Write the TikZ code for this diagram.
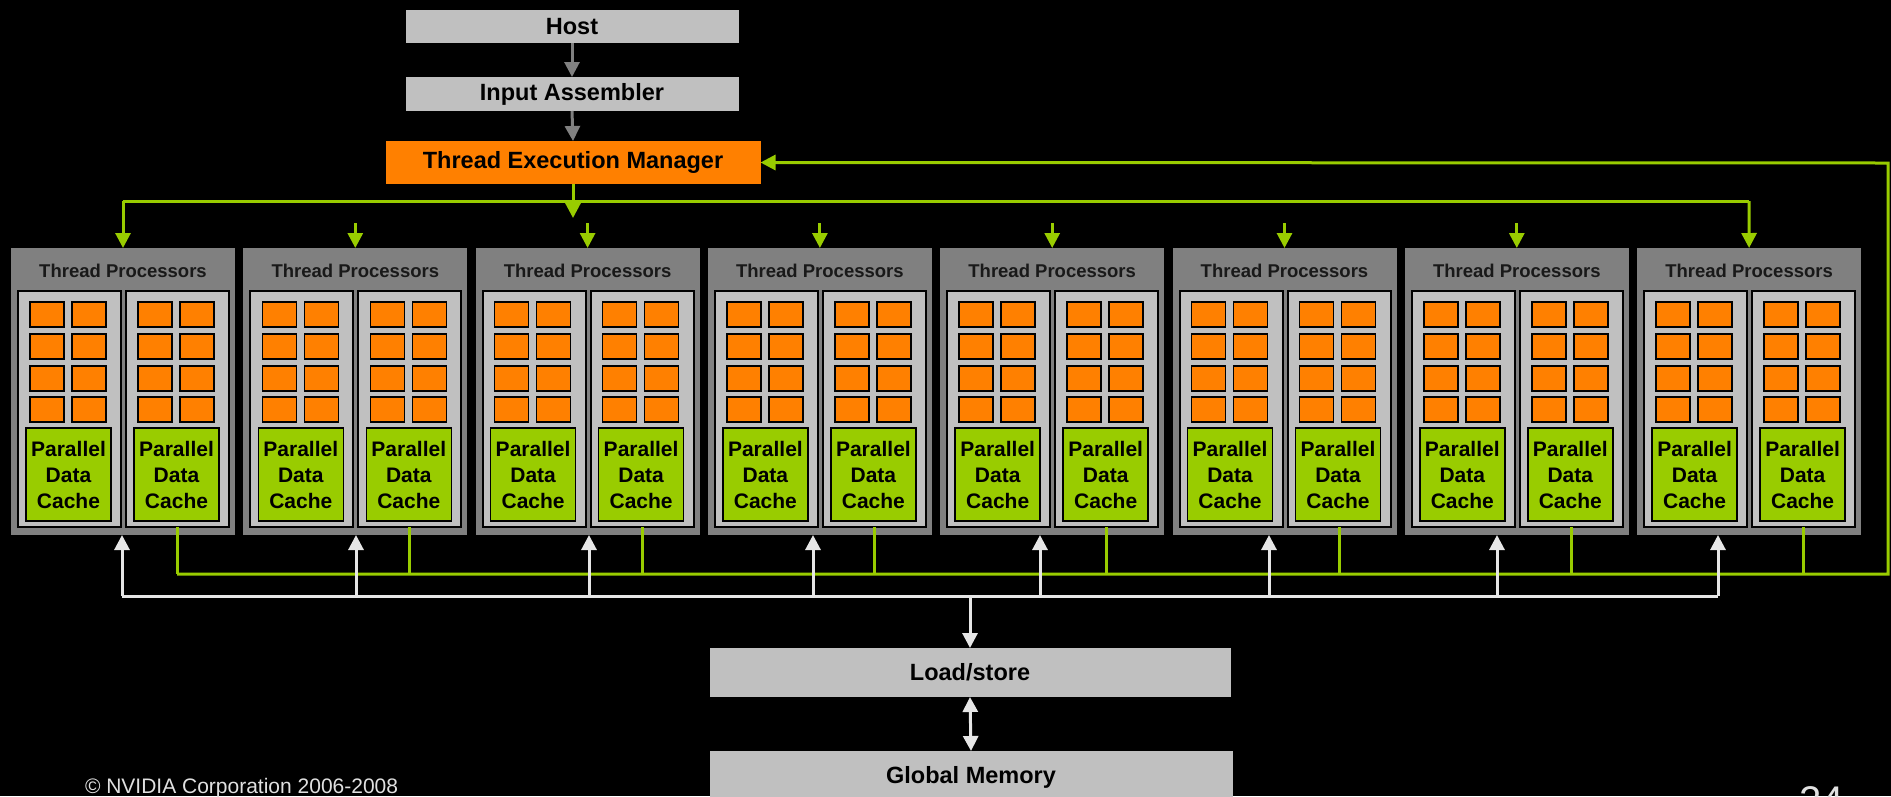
\documentclass[tikz,border=0pt]{standalone}
\usepackage{fontspec}
\setmainfont{Liberation Sans}
\usetikzlibrary{arrows.meta}
\definecolor{nvgreen}{HTML}{99CC00}
\definecolor{nvorange}{HTML}{FF8000}
\definecolor{lgray}{HTML}{C0C0C0}
\definecolor{mgray}{HTML}{808080}
\definecolor{wline}{HTML}{E6E6E6}
\definecolor{txtgray}{HTML}{E0E0E0}
\begin{document}
\begin{tikzpicture}[x=1pt,y=-1pt,
  every node/.style={inner sep=0pt, outer sep=0pt},
  lightbox/.style={rectangle, fill=lgray, font=\fontsize{23.5}{28}\selectfont\bfseries, text=black},
  tembox/.style={rectangle, fill=nvorange, font=\fontsize{23.5}{28}\selectfont\bfseries, text=black},
  tpbox/.style={rectangle, fill=mgray, minimum width=224pt, minimum height=287pt, anchor=north west},
  tptitle/.style={font=\fontsize{18.5}{22}\selectfont\bfseries, text=black!90},
  smcol/.style={rectangle, fill=lgray, draw=black, line width=2pt, minimum width=103pt, minimum height=236pt, anchor=north west},
  core/.style={rectangle, fill=nvorange, draw=black, line width=1.5pt, minimum width=34pt, minimum height=25pt, anchor=north west},
  pdc/.style={rectangle, fill=nvgreen, draw=black, line width=1.5pt, minimum width=85pt, minimum height=93pt, anchor=north west, align=center, font=\fontsize{21}{26}\selectfont\bfseries},
  grayarrow/.style={draw=mgray, line width=3pt, -{Triangle[width=15pt,length=15pt]}},
  gline/.style={draw=nvgreen, line width=3pt},
  garrow/.style={draw=nvgreen, line width=3pt, -{Triangle[width=15pt,length=15pt]}},
  wline/.style={draw=wline, line width=3pt},
  warrow/.style={draw=wline, line width=3pt, -{Triangle[width=15pt,length=15pt]}},
  wdarrow/.style={draw=wline, line width=3pt, {Triangle[width=15pt,length=15pt]}-{Triangle[width=15pt,length=15pt]}},
]
\useasboundingbox (0,0) rectangle (1891,796);
\path[clip] (0,0) rectangle (1891,796);
\fill[black] (0,0) rectangle (1891,796);

% top chain
\node[lightbox, minimum width=333pt, minimum height=33pt] (host) at (572,26.5) {Host};
\node[lightbox, minimum width=333pt, minimum height=34pt] (ia) at (572,94) {Input Assembler};
\node[tembox, minimum width=375pt, minimum height=43pt] (tem) at (573,162.5) {Thread Execution Manager};

% thread processor groups
\foreach \i in {0,...,7} {
  \pgfmathsetmacro\lx{11+232.3*\i}
  \node[tpbox] (tp\i) at (\lx,248) {};
  \node[tptitle] (tpt\i) at (\lx+112,271) {Thread Processors};
  \foreach \cc/\ox in {a/7,b/115} {
    \node[smcol] (col\i\cc) at (\lx+\ox,291) {};
    \foreach \rr/\yy in {0/302,1/334,2/366,3/397} {
      \foreach \kk/\dx in {0/12,1/54} {
        \node[core] (core\i\cc\rr\kk) at (\lx+\ox+\dx,\yy) {};
      }
    }
    \node[pdc] (pdc\i\cc) at (\lx+\ox+8,428) {Parallel\\Data\\Cache};
  }
}

% memory boxes
\node[lightbox, minimum width=521pt, minimum height=49pt] (ls) at (970,672.5) {Load/store};
\node[lightbox, minimum width=523pt, minimum height=52pt] (gm) at (971,777) {Global Memory};

% gray arrows
\draw[grayarrow] (host.south) -- (ia.north);
\draw[grayarrow] (ia.south) -- (tem.north);

% green distribution bus
\coordinate (busL) at (123,201);
\coordinate (busR) at (1749,201);
\coordinate (temtip) at (573,218);
\draw[gline] (busL) -- (busR);
\draw[garrow] (tem.south) -- (temtip);
\draw[garrow] (busL) -- (tp0.north);
\draw[garrow] (busR) -- (tp7.north);
\foreach \i in {1,...,6} {
  \draw[garrow] ([yshift=25pt]tp\i.north) -- (tp\i.north);
}

% green feedback bus
\coordinate (fbL) at (177,574);
\coordinate (fbR) at (1888,574);
\coordinate (fbT) at (1888,163);
\foreach \i in {0,...,7} {
  \draw[gline] (col\i b.south) -- (col\i b.south |- fbL);
}
\draw[garrow] (fbL) -- (fbR) -- (fbT) -- (tem.east);

% white load/store bus
\coordinate (wbL) at (122,596);
\coordinate (wbR) at (1718,596);
\coordinate (wbM) at (970,596);
\draw[wline] (wbL) -- (wbR);
\foreach \i/\ux in {0/122,1/356,2/589,3/813,4/1040,5/1269,6/1497,7/1718} {
  \coordinate (wa\i) at (\ux,596);
  \draw[warrow] (wa\i) -- (wa\i |- tp\i.south);
}
\draw[warrow] (wbM) -- (wbM |- ls.north);
\draw[wdarrow] (ls.south) -- (gm.north);

% footer
\node[anchor=base west, text=txtgray, font=\fontsize{21}{25}\selectfont] (copy) at (85,793) {© NVIDIA Corporation 2006-2008};
\node[anchor=base west, text=txtgray, font=\fontsize{40}{48}\selectfont] (pnum) at (1799,814) {24};
\end{tikzpicture}
\end{document}
